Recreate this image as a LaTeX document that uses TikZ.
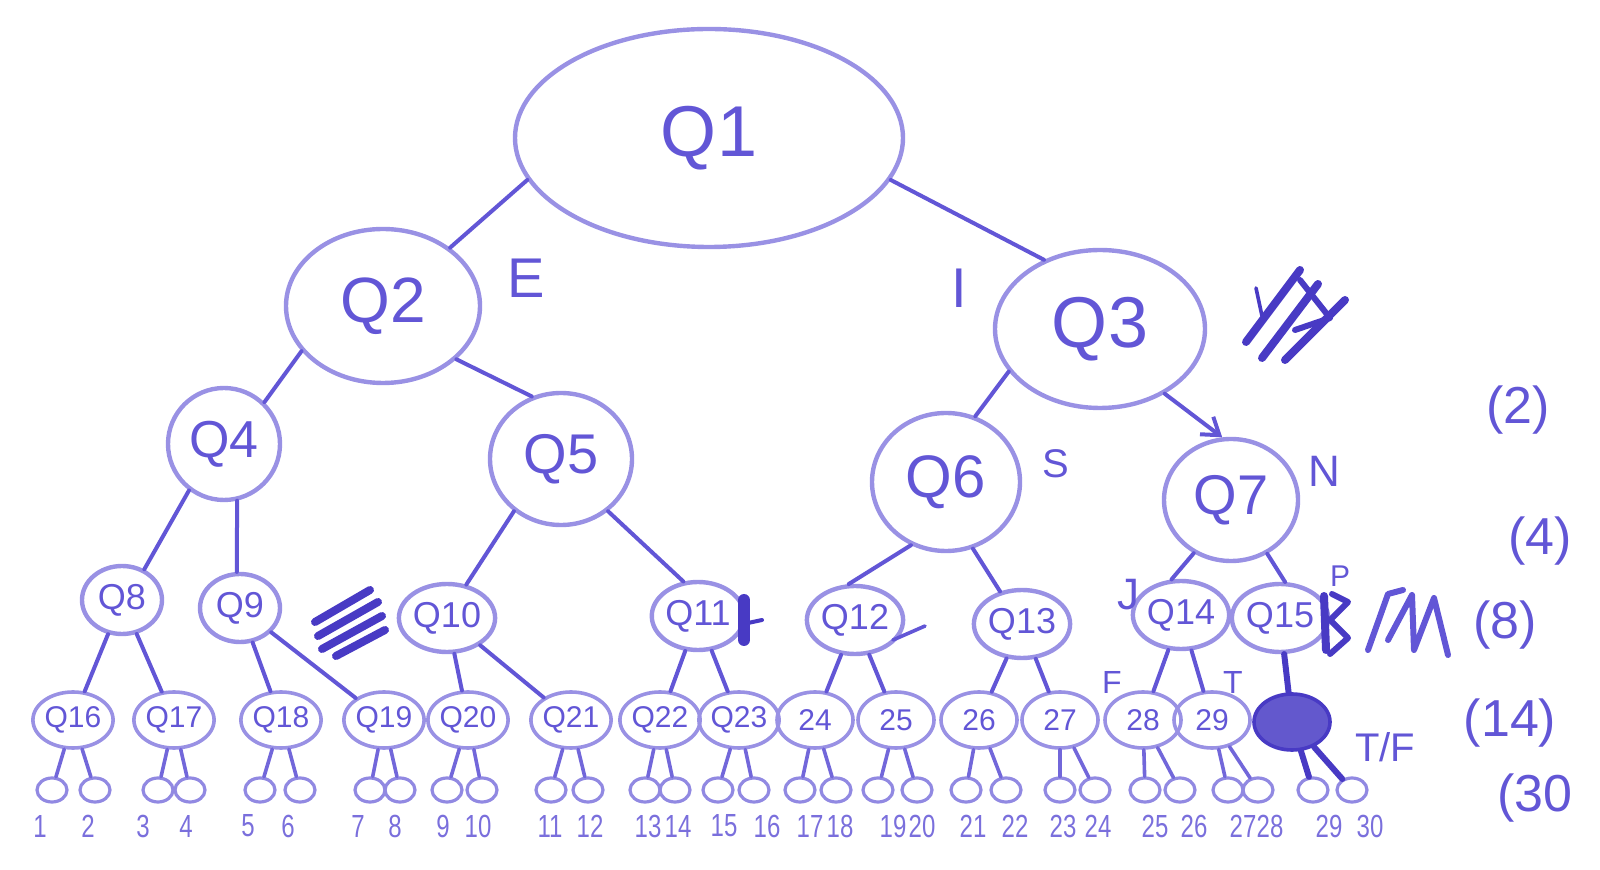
\documentclass[tikz,border=0pt]{standalone}
\usepackage{fontspec}
\setmainfont{Liberation Sans}
\newfontfamily\narrowfont[FakeStretch=0.75]{Liberation Sans}
\usetikzlibrary{shapes.geometric,arrows.meta}
\definecolor{crayon}{RGB}{98,86,214}
\definecolor{crayondark}{RGB}{72,58,196}
\begin{document}
\begin{tikzpicture}[x=0.5pt,y=-0.5pt,
  fs/.style={font=\fontsize{#1}{#1}\selectfont},
  qnode/.style={ellipse,draw=crayon!65,line width=2.2pt,inner sep=0pt,text=crayon},
  lfour/.style={qnode,minimum width=40pt,minimum height=34pt,fs=18},
  lfive/.style={qnode,line width=1.8pt,minimum width=38pt,minimum height=28pt,fs=15},
  leaf/.style={ellipse,draw=crayon!70,line width=1.6pt,minimum width=15pt,minimum height=12pt,inner sep=0pt},
  edge/.style={draw=crayon,line width=2pt,line cap=round},
  legedge/.style={draw=crayon!90,line width=1.8pt,line cap=round},
  lbl/.style={text=crayon!85,font=\narrowfont\fontsize{16}{16}\selectfont,inner sep=0pt},
  note/.style={text=crayon,inner sep=0pt},
  scrib/.style={draw=crayondark,line width=4pt,line cap=round,line join=round},
]
\useasboundingbox (0,0) rectangle (1600,870);

% upper levels
\node[qnode,minimum width=194pt,minimum height=109pt,fs=36] (Q1) at (709,138) {Q1};
\node[qnode,minimum width=97pt,minimum height=77pt,fs=32] (Q2) at (383,306) {Q2};
\node[qnode,minimum width=105pt,minimum height=79pt,fs=36] (Q3) at (1100,329) {Q3};
\node[qnode,minimum width=56pt,minimum height=56pt,fs=26] (Q4) at (224,444) {Q4};
\node[qnode,minimum width=71pt,minimum height=66pt,fs=28] (Q5) at (561,459) {Q5};
\node[qnode,minimum width=74pt,minimum height=69pt,fs=30] (Q6) at (946,482) {Q6};
\node[qnode,minimum width=67pt,minimum height=61pt,fs=28] (Q7) at (1231,500) {Q7};

% level 4
\node[lfour] (Q8) at (122,600) {Q8};
\node[lfour] (Q9) at (240,608) {Q9};
\node[lfour] (Q10) at (447,618) {Q10};
\node[lfour] (Q11) at (698,616) {Q11};
\node[lfour] (Q12) at (855,620) {Q12};
\node[lfour] (Q13) at (1022,624) {Q13};
\node[lfour] (Q14) at (1181,615) {Q14};
\node[lfour] (Q15) at (1280,618) {Q15};

% level 5
\foreach \n/\t/\x in {Q16/Q16/73,Q17/Q17/174,Q18/Q18/281,Q19/Q19/384,Q20/Q20/468,
  Q21/Q21/571,Q22/Q22/660,Q23/Q23/739,N24/24/815,N25/25/896,N26/26/979,
  N27/27/1060,N28/28/1143,N29/29/1212}
  \node[lfive] (\n) at (\x,720) {\t};
\node[lfive,draw=crayondark,fill=crayondark!85] (N30) at (1292,722) {};

% leaves
\foreach \i/\x in {1/52,2/95,3/158,4/190,5/260,6/300,7/370,8/400,9/447,10/482,
  11/551,12/588,13/645,14/675,15/718,16/754,17/800,18/836,19/878,20/917,
  21/966,22/1006,23/1060,24/1095,25/1145,26/1180,27/1228,28/1258,29/1313,30/1352}
  \node[leaf] (L\i) at (\x,790) {};

% leaf labels
\foreach \i/\x in {1/40,2/88,3/143,4/186,5/248,6/288,7/358,8/395,9/443,10/478,
  11/550,12/590,13/648,14/678,15/724,16/767,17/810,18/840,19/893,20/922,
  21/973,22/1015,23/1063,24/1098,25/1155,26/1194,27/1243,28/1270,29/1329,30/1370}
  \node[lbl] (T\i) at (\x,826) {\i};

% edges upper
\draw[edge] (Q1.193) -- (Q2.41);
\draw[edge] (Q1.347) -- (Q3.129);
\draw[edge] (Q2.209) -- (Q4.46);
\draw[edge] (Q2.324) -- (Q5.115);
\draw[edge] (Q3.205) -- (Q6.66);
\draw[edge,-{Straight Barb[length=8pt,width=11pt]}] (Q3.315) -- (Q7.98);
\draw[edge] (Q4.233) -- (Q8.54);
\draw[edge] (Q4.283) -- (Q9.95);
\draw[edge] (Q5.228) -- (Q10.60);
\draw[edge] (Q5.312) -- (Q11.113);
\draw[edge] (Q6.241) -- (Q12.100);
\draw[edge] (Q6.292) -- (Q13.124);
\draw[edge] (Q7.235) -- (Q14.105);
\draw[edge] (Q7.304) -- (Q15.82);

% level 4 to level 5
\foreach \a/\b in {Q8/Q16,Q8/Q17,Q9/Q18,Q9/Q19,Q10/Q20,Q10/Q21,Q11/Q22,Q11/Q23,
  Q12/N24,Q12/N25,Q13/N26,Q13/N27,Q14/N28,Q14/N29}
  \draw[edge] (\a) -- (\b);
\draw[edge,draw=crayondark,line width=3pt] (Q15) -- (N30);

% level 5 to leaves
\foreach \p/\a/\b in {Q16/1/2,Q17/3/4,Q18/5/6,Q19/7/8,Q20/9/10,Q21/11/12,Q22/13/14,
  Q23/15/16,N24/17/18,N25/19/20,N26/21/22,N27/23/24,N28/25/26,N29/27/28}
  {\draw[legedge] (\p) -- (L\a); \draw[legedge] (\p) -- (L\b);}
\draw[legedge,draw=crayondark,line width=3pt] (N30) -- (L29);
\draw[legedge,draw=crayondark,line width=3pt] (N30) -- (L30);

% branch letters
\node[note,fs=28] (lE) at (526,278) {E};
\node[note,fs=28] (lI) at (959,288) {I};
\node[note,fs=20] (lS) at (1056,464) {S};
\node[note,fs=22] (lN) at (1324,471) {N};
\node[note,fs=22] (lJ) at (1128,595) {J};
\node[note,fs=15] (lP) at (1340,576) {P};
\node[note,fs=16] (lF) at (1112,682) {F};
\node[note,fs=16] (lT) at (1233,682) {T};
\node[note,fs=20] (lTF) at (1385,747) {T/F};

% counts
\node[note,fs=26] (c2) at (1518,410) {(2)};
\node[note,fs=26] (c4) at (1540,541) {(4)};
\node[note,fs=26] (c8) at (1505,625) {(8)};
\node[note,fs=26] (c14) at (1510,723) {(14)};
\node[note,fs=26] (c30) at (1535,798) {(30};

% scribbles
\draw[scrib,line width=1.8pt] (1256,288) -- (1262,316);
\draw[scrib] (1246,342) -- (1300,270);
\draw[scrib] (1262,358) -- (1318,284);
\draw[scrib] (1285,360) -- (1345,300);
\draw[scrib,line width=3pt] (1300,280) -- (1330,318) -- (1295,330);

\draw[scrib] (315,622) -- (370,590);
\draw[scrib] (318,636) -- (378,602);
\draw[scrib] (322,649) -- (382,616);
\draw[scrib] (336,656) -- (385,630);

\draw[scrib,line width=6pt] (744,600) -- (744,640);
\draw[scrib,line width=2pt] (748,623) -- (762,620);
\draw[edge,line width=1.8pt] (893,640) -- (925,626);

\draw[scrib] (1324,596) -- (1326,650);
\draw[scrib,line width=3pt] (1332,594) -- (1348,602) -- (1330,620) -- (1348,638) -- (1330,654);

\draw[scrib,draw=crayon,line width=3pt] (1368,650) -- (1388,594) -- (1403,590);
\draw[scrib,draw=crayon,line width=3pt] (1388,640) -- (1412,595) -- (1414,650) -- (1434,598) -- (1448,655);
\end{tikzpicture}
\end{document}
